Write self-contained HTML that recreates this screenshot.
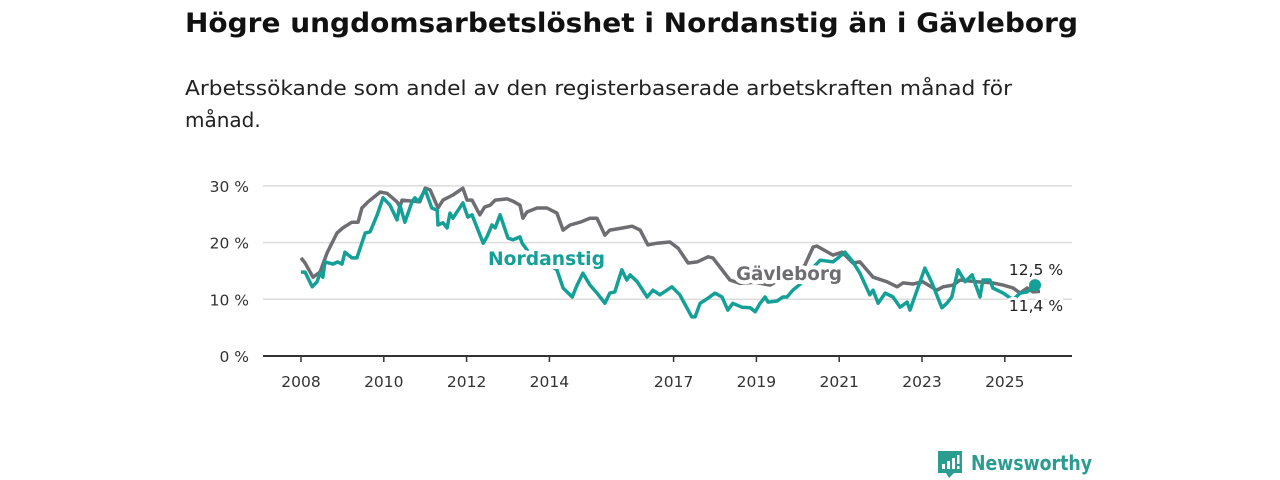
<!DOCTYPE html>
<html><head><meta charset="utf-8">
<style>
html,body{margin:0;padding:0;background:#fff;width:1280px;height:480px;overflow:hidden;font-family:"DejaVu Sans","Liberation Sans",sans-serif;}
svg text{font-family:"DejaVu Sans","Liberation Sans",sans-serif;}
</style></head>
<body>
<svg width="1280" height="480" xmlns="http://www.w3.org/2000/svg">
<text x="185" y="32" font-size="27" font-weight="bold" fill="#111" textLength="893" lengthAdjust="spacingAndGlyphs">Högre ungdomsarbetslöshet i Nordanstig än i Gävleborg</text>
<text x="185" y="95" font-size="20" fill="#222" textLength="827" lengthAdjust="spacingAndGlyphs">Arbetssökande som andel av den registerbaserade arbetskraften månad för</text>
<text x="185" y="127" font-size="20" fill="#222">månad.</text>
<g id="grid"></g>
<g id="yaxis"></g>
<g id="xaxis"></g>
<g id="series"></g>
<g id="labels"></g>
<g>
<path d="M938 451 h24 v22 h-8 l-5 5 l-3 -5 h-8 z" fill="#2a9d90"/>
<rect x="942" y="464" width="3" height="5" fill="#fff"/>
<rect x="947" y="461" width="3" height="8" fill="#fff"/>
<rect x="952" y="458" width="3" height="11" fill="#fff"/>
<rect x="957" y="455" width="2.5" height="9" fill="#fff"/>
<rect x="957" y="466" width="2.5" height="3" fill="#fff"/>
<text x="971" y="470" font-size="20" font-weight="bold" fill="#2a9d90" textLength="121" lengthAdjust="spacingAndGlyphs">Newsworthy</text>
</g>
</svg>
<script>
const NS='http://www.w3.org/2000/svg';
const yTicks=[0,10,20,30];
const yTickLabels=['0 %','10 %','20 %','30 %'];
const xTicks=[2008,2010,2012,2014,2017,2019,2021,2023,2025];
const gavYears=[2008.0,2008.1,2008.29,2008.46,2008.63,2008.87,2009.01,2009.23,2009.38,2009.47,2009.62,2009.91,2010.08,2010.32,2010.39,2010.44,2010.71,2010.87,2011.0,2011.12,2011.31,2011.43,2011.67,2011.91,2012.01,2012.13,2012.32,2012.44,2012.57,2012.69,2012.98,2013.12,2013.29,2013.36,2013.46,2013.7,2013.94,2014.18,2014.33,2014.5,2014.74,2014.98,2015.15,2015.34,2015.46,2015.78,2016.0,2016.19,2016.38,2016.6,2016.91,2017.11,2017.35,2017.57,2017.83,2017.95,2018.36,2018.6,2018.97,2019.33,2019.81,2020.17,2020.37,2020.46,2020.85,2021.07,2021.33,2021.5,2021.82,2022.15,2022.4,2022.54,2022.78,2023.02,2023.36,2023.51,2023.75,2023.92,2024.33,2024.71,2024.96,2025.2,2025.37,2025.54,2025.68,2025.85];
const gavValues=[17.3,16.4,13.9,14.8,18.2,21.7,22.6,23.6,23.6,26.1,27.2,28.9,28.7,27.2,26.3,27.5,27.3,27.2,29.6,29.3,26.1,27.5,28.4,29.6,27.5,27.5,24.9,26.3,26.6,27.5,27.7,27.3,26.6,24.3,25.4,26.1,26.1,25.2,22.2,23.1,23.6,24.3,24.3,21.3,22.2,22.6,22.9,22.2,19.6,19.9,20.1,19.0,16.4,16.6,17.5,17.3,13.4,12.8,13.0,12.5,14.5,16.0,19.2,19.4,17.8,18.3,16.4,16.6,13.9,13.1,12.2,12.9,12.7,13.1,11.6,12.2,12.5,13.4,13.1,12.9,12.5,12.0,11.1,12.0,11.3,11.4];
const norYears=[2008.0,2008.1,2008.27,2008.39,2008.46,2008.53,2008.58,2008.77,2008.89,2008.99,2009.06,2009.23,2009.35,2009.55,2009.67,2009.84,2009.98,2010.15,2010.32,2010.39,2010.51,2010.68,2010.75,2010.83,2011.0,2011.16,2011.29,2011.31,2011.43,2011.53,2011.6,2011.67,2011.91,2012.03,2012.13,2012.4,2012.49,2012.61,2012.69,2012.81,2013.0,2013.12,2013.29,2013.34,2013.53,2013.89,2014.18,2014.33,2014.55,2014.67,2014.81,2014.98,2015.15,2015.34,2015.46,2015.58,2015.75,2015.87,2015.95,2016.12,2016.36,2016.5,2016.67,2016.96,2017.15,2017.44,2017.52,2017.64,2017.83,2018.0,2018.17,2018.31,2018.43,2018.65,2018.85,2018.97,2019.09,2019.21,2019.28,2019.5,2019.64,2019.74,2019.88,2020.13,2020.29,2020.54,2020.85,2021.14,2021.33,2021.5,2021.74,2021.82,2021.94,2022.11,2022.3,2022.47,2022.64,2022.71,2023.07,2023.24,2023.48,2023.6,2023.72,2023.87,2024.04,2024.21,2024.4,2024.47,2024.64,2024.71,2024.96,2025.2,2025.37,2025.54,2025.73];
const norValues=[14.8,14.8,12.2,13.1,14.6,13.9,16.6,16.2,16.6,16.2,18.3,17.3,17.3,21.7,21.9,24.9,27.9,26.6,24.0,26.6,23.6,27.2,27.9,27.2,29.3,26.1,25.7,23.1,23.5,22.6,25.2,24.3,27.0,24.5,24.9,19.9,21.0,23.1,22.6,24.9,20.8,20.5,21.0,19.9,18.0,16.5,15.2,12.0,10.4,12.5,14.6,12.5,11.1,9.3,11.1,11.3,15.2,13.4,14.3,13.1,10.4,11.6,10.8,12.2,10.8,6.9,6.9,9.3,10.2,11.1,10.4,8.1,9.3,8.6,8.5,7.8,9.3,10.4,9.5,9.7,10.4,10.4,11.6,13.1,15.0,16.9,16.6,18.3,16.6,14.6,10.8,11.6,9.3,11.1,10.4,8.6,9.5,8.1,15.5,12.9,8.5,9.3,10.4,15.2,13.1,14.3,10.4,13.4,13.4,12.0,11.1,9.9,11.1,11.3,12.5];

const X0=263,X1=1072,Y0=356;
const xs=y=>301+(y-2008)*41.4;
const ys=v=>Y0-v*5.67;
function el(tag,attrs,parent){const e=document.createElementNS(NS,tag);for(const k in attrs)e.setAttribute(k,attrs[k]);parent.appendChild(e);return e;}
const grid=document.getElementById('grid'),ya=document.getElementById('yaxis'),xa=document.getElementById('xaxis'),ser=document.getElementById('series'),lab=document.getElementById('labels');
yTicks.forEach((t,i)=>{
  if(t>0){const g=el('line',{x1:X0,x2:X1,y1:ys(t),y2:ys(t),stroke:'#dcdcdc','stroke-width':1.5},grid);
  
  }
  const tx=el('text',{x:249,y:ys(t)+6,'text-anchor':'end','font-size':15.5,fill:'#333'},ya);
  tx.textContent=yTickLabels[i];
  
  
});
const base=el('line',{x1:X0,x2:X1,y1:Y0,y2:Y0,stroke:'#333','stroke-width':2},xa);


xTicks.forEach(t=>{
  const tk=el('line',{x1:xs(t),x2:xs(t),y1:Y0,y2:Y0+6,stroke:'#333','stroke-width':1.5},xa);
  
  
  const tx=el('text',{x:xs(t),y:387,'text-anchor':'middle','font-size':15.5,fill:'#333'},xa);
  tx.textContent=t;
  
  
});
function pathD(yrs,vals){return yrs.map((y,i)=>(i?'L':'M')+xs(y).toFixed(1)+' '+ys(vals[i]).toFixed(1)).join(' ');}
const gp=el('path',{d:pathD(gavYears,gavValues),fill:'none',stroke:'#6e6d72','stroke-width':3.5,'stroke-linejoin':'round'},ser);


const np=el('path',{d:pathD(norYears,norValues),fill:'none',stroke:'#14a096','stroke-width':3.5,'stroke-linejoin':'round'},ser);


const ng=norYears.length-1,gg=gavYears.length-1;
const dot=el('circle',{cx:xs(norYears[ng]),cy:ys(norValues[ng]),r:6,fill:'#14a096'},ser);


function label(txt,x,y,color,bold,name,anchor,len){
  const a={x:x,y:y,'font-size':bold?19:15.5,'font-weight':bold?'bold':'normal',fill:color,stroke:'#fff','stroke-width':bold?8:6,'paint-order':'stroke','stroke-linejoin':'round','text-anchor':anchor||'start'};
  if(len){a.textLength=len;a.lengthAdjust='spacingAndGlyphs';}
  const t=el('text',a,lab);
  t.textContent=txt;
  
  
}
label('Nordanstig',488,265,'#14a096',true,'label-nordanstig',null,117);
label('Gävleborg',736,280,'#6e6d72',true,'label-gavleborg',null,106);
label(String(norValues[ng]).replace('.',',')+' %',1036,275,'#222',false,'end-value-nordanstig','middle');
label(String(gavValues[gg]).replace('.',',')+' %',1036,311,'#222',false,'end-value-gavleborg','middle');
</script>
</body></html>
